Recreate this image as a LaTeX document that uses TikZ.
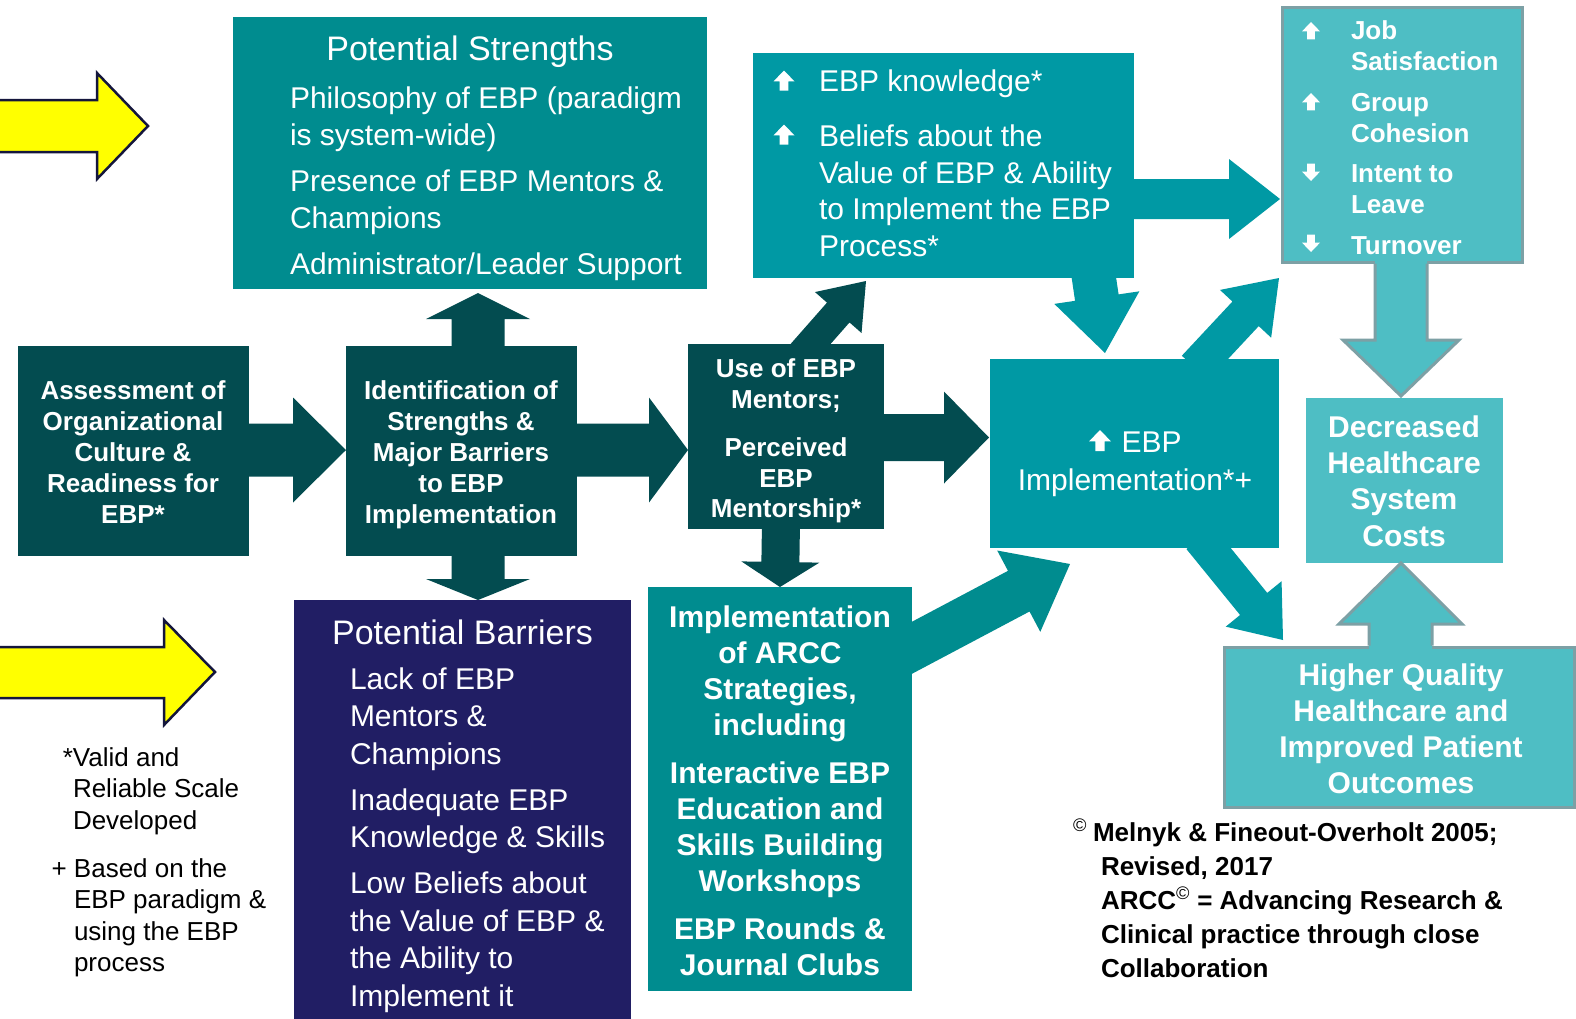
\documentclass[tikz,border=0pt]{standalone}
\usepackage{fontspec}
\setmainfont{Liberation Sans}
\usetikzlibrary{calc}
\definecolor{tealA}{RGB}{0,140,143}
\definecolor{tealB}{RGB}{0,153,164}
\definecolor{darkT}{RGB}{3,76,80}
\definecolor{navyB}{RGB}{33,30,100}
\definecolor{lightT}{RGB}{78,190,196}
\definecolor{grayB}{RGB}{125,160,165}
\definecolor{yellowA}{RGB}{255,255,0}
\definecolor{outlineY}{RGB}{20,22,60}
\newcommand\fatarrow[6]{%
  \path ($(#3)!#6pt!(#2)$) coordinate (fatS);
  \fill[#1] ($(#2)!#4pt!90:(#3)$) -- ($(fatS)!#4pt!-90:(#2)$) -- ($(fatS)!#5pt!-90:(#2)$) -- (#3)
    -- ($(fatS)!#5pt!90:(#2)$) -- ($(fatS)!#4pt!90:(#2)$) -- ($(#2)!#4pt!-90:(#3)$) -- cycle;}
\newcommand\upicon[3]{\fill[white,shift={(#1,#2)},scale=#3] (-0.5,0.02) -- (0,-0.5) -- (0.5,0.02) -- (0.21,0.02) -- (0.21,0.46) -- (-0.21,0.46) -- (-0.21,0.02) -- cycle;}
\newcommand\downicon[3]{\fill[white,shift={(#1,#2)},scale=#3,yscale=-1] (-0.5,0.02) -- (0,-0.5) -- (0.5,0.02) -- (0.21,0.02) -- (0.21,0.46) -- (-0.21,0.46) -- (-0.21,0.02) -- cycle;}
\tikzset{
  boxshape/.style={rectangle, inner sep=0pt, outer sep=0pt, anchor=north west},
  txt/.style={text=white, inner sep=0pt, outer sep=0pt},
  blacktxt/.style={text=black, inner sep=0pt, outer sep=0pt},
  yarrow/.style={fill=yellowA, draw=outlineY, line width=2.5pt, line join=miter},
}
\begin{document}
\begin{tikzpicture}[x=1pt,y=-1pt]
\useasboundingbox (0,0) rectangle (1576,1018);
\fill[white] (0,0) rectangle (1576,1018);

% yellow arrows
\filldraw[yarrow] (-5,100) -- (97,100) -- (97,73) -- (148,126) -- (97,179) -- (97,152) -- (-5,152) -- cycle;
\filldraw[yarrow] (-5,647) -- (164,647) -- (164,620) -- (215,672) -- (164,725) -- (164,698) -- (-5,698) -- cycle;

% connector end points
\coordinate (a1s) at (240,450);   \coordinate (a1t) at (346,450);
\coordinate (a2s) at (570,450);   \coordinate (a2t) at (688,450);
\coordinate (a3s) at (478,350);   \coordinate (a3t) at (478,293);
\coordinate (a4s) at (478,550);   \coordinate (a4t) at (478,600);
\coordinate (a5s) at (878,437.5); \coordinate (a5t) at (989,437.5);
\coordinate (a6s) at (781,522);   \coordinate (a6t) at (780,587);
\coordinate (a7s) at (800,356);   \coordinate (a7t) at (866,281);
\coordinate (a8s) at (1125,199);  \coordinate (a8t) at (1280,199);
\coordinate (a9s) at (1092,265);  \coordinate (a9t) at (1105,353);
\coordinate (a10s) at (1195,368); \coordinate (a10t) at (1279,278);
\coordinate (a11s) at (1200,538); \coordinate (a11t) at (1283,640);
\coordinate (a12s) at (870,670);  \coordinate (a12t) at (1070,564);

\fatarrow{darkT}{a1s}{a1t}{26.5}{52.5}{53}
\fatarrow{darkT}{a2s}{a2t}{26.5}{52.5}{39}
\fatarrow{darkT}{a3s}{a3t}{26.5}{52}{26}
\fatarrow{darkT}{a4s}{a4t}{26.5}{52}{21}
\fatarrow{darkT}{a5s}{a5t}{23.5}{46}{45}
\fatarrow{darkT}{a6s}{a6t}{19}{39}{25}
\fatarrow{darkT}{a7s}{a7t}{15}{31}{42}
\fatarrow{tealB}{a8s}{a8t}{20}{40}{51}
\fatarrow{tealB}{a9s}{a9t}{22}{43}{56}
\fatarrow{tealB}{a10s}{a10t}{18}{35}{49}
\fatarrow{tealB}{a11s}{a11t}{17.5}{36}{46.5}
\fatarrow{tealA}{a12s}{a12t}{23}{46}{58}

% boxes
\node[boxshape, fill=tealA, minimum width=474pt, minimum height=272pt] (strengths) at (233,17) {};
\node[boxshape, fill=tealB, minimum width=381pt, minimum height=225pt] (ebpk) at (753,53) {};
\node[boxshape, fill=darkT, minimum width=231pt, minimum height=210pt] (assess) at (18,346) {};
\node[boxshape, fill=darkT, minimum width=231pt, minimum height=210pt] (ident) at (346,346) {};
\node[boxshape, fill=darkT, minimum width=196pt, minimum height=185pt] (use) at (688,344) {};
\node[boxshape, fill=tealB, minimum width=289pt, minimum height=189pt] (impl) at (990,359) {};
\node[boxshape, fill=tealA, minimum width=264pt, minimum height=404pt] (arcc) at (648,587) {};
\node[boxshape, fill=navyB, minimum width=337pt, minimum height=425pt] (barriers) at (294,600) {};
\node[boxshape, fill=lightT, draw=grayB, line width=3pt, minimum width=240pt, minimum height=255pt] (job) at (1282,7) {};
\node[boxshape, fill=lightT, minimum width=197pt, minimum height=165pt] (decr) at (1306,398) {};
\node[boxshape, fill=lightT, draw=grayB, line width=3pt, minimum width=350pt, minimum height=160pt] (higher) at (1224,647) {};

% outlined light arrows
\fill[lightT] (1375,259) -- (1375,340) -- (1343,340) -- (1401,396) -- (1459,340) -- (1427,340) -- (1427,259) -- cycle;
\draw[grayB, line width=3pt, line join=miter] (1375,263.5) -- (1375,340) -- (1343,340) -- (1401,396) -- (1459,340) -- (1427,340) -- (1427,263.5);
\fill[lightT] (1369,650) -- (1369,624) -- (1339,624) -- (1401,563) -- (1462,624) -- (1432,624) -- (1432,650) -- cycle;
\draw[grayB, line width=3pt, line join=miter] (1369,645.5) -- (1369,624) -- (1339,624) -- (1401,563) -- (1462,624) -- (1432,624) -- (1432,645.5);

% texts (multi-line nodes are anchored at the baseline of their last line)
\node[txt, anchor=base, font=\fontsize{34}{40}\selectfont] (strT) at (470,60) {Potential Strengths};
\node[txt, anchor=base west, align=left, font=\fontsize{30}{37.5}\selectfont] (strI) at (290,274)
  {Philosophy of EBP (paradigm\\is system-wide)\\[8pt]Presence of EBP Mentors \&\\Champions\\[8pt]Administrator/Leader Support};

\node[txt, anchor=base west, align=left, font=\fontsize{30}{36.5}\selectfont] (ebpkT) at (819,256)
  {EBP knowledge*\\[18.5pt]Beliefs about the\\Value of EBP \& Ability\\to Implement the EBP\\Process*};
\upicon{784}{81}{21}
\upicon{784}{135}{21}

\node[txt, anchor=base west, align=left, font=\bfseries\fontsize{26}{31}\selectfont] (jobT) at (1351,254)
  {Job\\Satisfaction\\[9.5pt]Group\\Cohesion\\[9.5pt]Intent to\\Leave\\[9.5pt]Turnover};
\upicon{1311}{31}{18}
\upicon{1311}{102}{18}
\downicon{1311}{172}{18}
\downicon{1311}{243}{18}

\node[txt, anchor=base, align=center, font=\bfseries\fontsize{26}{31}\selectfont] (assessT) at (133,523.5)
  {Assessment of\\Organizational\\Culture \&\\Readiness for\\EBP*};
\node[txt, anchor=base, align=center, font=\bfseries\fontsize{26}{31}\selectfont] (identT) at (461,523.5)
  {Identification of\\Strengths \&\\Major Barriers\\to EBP\\Implementation};
\node[txt, anchor=base, align=center, font=\bfseries\fontsize{26}{30.5}\selectfont] (useT) at (786,517.5)
  {Use of EBP\\Mentors;\\[18pt]Perceived\\EBP\\Mentorship*};

\node[txt, anchor=base, align=center, font=\fontsize{30}{38}\selectfont] (implT) at (1135,490)
  {\hspace*{33pt}EBP\\Implementation*+};
\upicon{1100}{441}{22}

\node[txt, anchor=base, align=center, font=\bfseries\fontsize{30}{36}\selectfont] (arccT) at (780,975)
  {Implementation\\of ARCC\\Strategies,\\including\\[12pt]Interactive EBP\\Education and\\Skills Building\\Workshops\\[12pt]EBP Rounds \&\\Journal Clubs};

\node[txt, anchor=base, font=\fontsize{34}{40}\selectfont] (barT) at (462.5,644) {Potential Barriers};
\node[txt, anchor=base west, align=left, font=\fontsize{30}{37.5}\selectfont] (barI) at (350,1006)
  {Lack of EBP\\Mentors \&\\Champions\\[8.5pt]Inadequate EBP\\Knowledge \& Skills\\[8.5pt]Low Beliefs about\\the Value of EBP \&\\the Ability to\\Implement it};

\node[txt, anchor=base, align=center, font=\bfseries\fontsize{30}{36.3}\selectfont] (decrT) at (1404,546)
  {Decreased\\Healthcare\\System\\Costs};
\node[txt, anchor=base, align=center, font=\bfseries\fontsize{30}{36}\selectfont] (higherT) at (1401,793)
  {Higher Quality\\Healthcare and\\Improved Patient\\Outcomes};

\node[blacktxt, anchor=base west, align=left, font=\fontsize{26}{31.5}\selectfont] (note1) at (73,829)
  {\llap{*}Valid and\\Reliable Scale\\Developed};
\node[blacktxt, anchor=base west, align=left, font=\fontsize{26}{31.5}\selectfont] (note2) at (74,971.5)
  {\llap{+ }Based on the\\EBP paradigm \&\\using the EBP\\process};

\node[blacktxt, anchor=base west, align=left, font=\bfseries\fontsize{26}{34}\selectfont] (copyT) at (1093,977)
  {\llap{\textsuperscript{\mdseries ©}\hspace{6pt}}Melnyk \& Fineout-Overholt 2005;\\\hspace*{8pt}Revised, 2017\\\hspace*{8pt}ARCC\textsuperscript{\mdseries ©} = Advancing Research \&\\\hspace*{8pt}Clinical practice through close\\\hspace*{8pt}Collaboration};
\end{tikzpicture}
\end{document}
